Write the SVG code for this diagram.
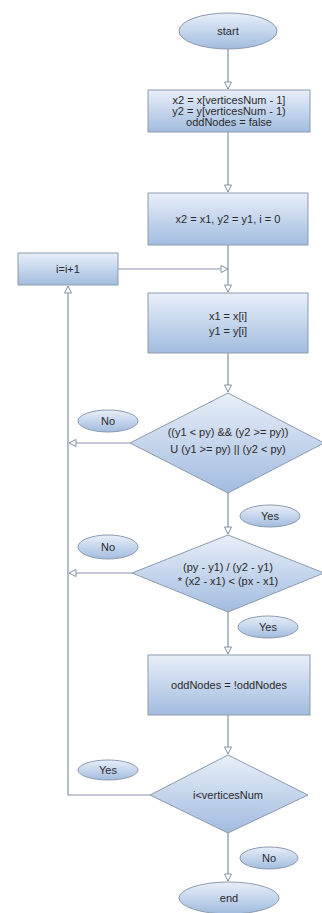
<svg xmlns="http://www.w3.org/2000/svg" width="322" height="913" viewBox="0 0 322 913">
<defs>
<linearGradient id="g" x1="0" y1="0" x2="0" y2="1">
<stop offset="0" stop-color="#e8eff9"/>
<stop offset="1" stop-color="#a2bcdf"/>
</linearGradient>
<marker id="a" markerWidth="10" markerHeight="10" refX="8" refY="4" orient="auto" markerUnits="userSpaceOnUse">
<path d="M1,0.5 L8,4 L1,7.5 Z" fill="#ffffff" stroke="#8593a3" stroke-width="1"/>
</marker>
<style>
.n{fill:url(#g);stroke:#8c9bad;stroke-width:1}
.t{font-family:"Liberation Sans",Arial,sans-serif;font-size:11px;fill:#2a2a2a;text-anchor:middle}
.c{fill:none;stroke:#8593a3;stroke-width:1.2}
</style>
</defs>
<rect width="322" height="913" fill="#ffffff"/>
<g id="connectors">
<path class="c" d="M228,49 V89" marker-end="url(#a)"/>
<path class="c" d="M228,132 V192" marker-end="url(#a)"/>
<path class="c" d="M228,245 V292" marker-end="url(#a)"/>
<path class="c" d="M118,269 H228" marker-end="url(#a)"/>
<path class="c" d="M228,353 V392" marker-end="url(#a)"/>
<path class="c" d="M130,443 H69" marker-end="url(#a)"/>
<path class="c" d="M228,493 V534" marker-end="url(#a)"/>
<path class="c" d="M132,573 H69" marker-end="url(#a)"/>
<path class="c" d="M228,612 V654" marker-end="url(#a)"/>
<path class="c" d="M228,715 V754" marker-end="url(#a)"/>
<path class="c" d="M150,795 H68 V286" marker-end="url(#a)"/>
<path class="c" d="M228,833 V881" marker-end="url(#a)"/>
</g>
<g id="start"><ellipse class="n" cx="228" cy="31" rx="49" ry="18"/><text class="t" x="228" y="35">start</text></g>
<g id="init1"><rect class="n" x="148" y="90" width="162" height="42"/>
<text class="t" x="229" y="104">x2 = x[verticesNum - 1]</text>
<text class="t" x="229" y="115">y2 = y[verticesNum - 1)</text>
<text class="t" x="229" y="126">oddNodes = false</text></g>
<g id="init2"><rect class="n" x="148" y="193" width="160" height="52"/>
<text class="t" x="228" y="223">x2 = x1, y2 = y1, i = 0</text></g>
<g id="inc"><rect class="n" x="18" y="253" width="100" height="32"/>
<text class="t" x="68" y="273">i=i+1</text></g>
<g id="assign"><rect class="n" x="148" y="293" width="160" height="60"/>
<text class="t" x="228" y="320">x1 = x[i]</text>
<text class="t" x="228" y="335">y1 = y[i]</text></g>
<g id="cond1"><path class="n" d="M228,393 L324,443 L228,493 L130,443 Z"/>
<text class="t" x="228" y="436">((y1 &lt; py) &amp;&amp; (y2 &gt;= py))</text>
<text class="t" x="228" y="453">U (y1 &gt;= py) ||  (y2 &lt; py)</text></g>
<g id="no1"><ellipse class="n" cx="108" cy="421" rx="30" ry="11"/><text class="t" x="108" y="425">No</text></g>
<g id="yes1"><ellipse class="n" cx="270" cy="516" rx="30" ry="11"/><text class="t" x="270" y="520">Yes</text></g>
<g id="cond2"><path class="n" d="M228,535 L324,573 L228,612 L132,573 Z"/>
<text class="t" x="228" y="571">(py - y1) / (y2 - y1)</text>
<text class="t" x="228" y="585">* (x2 - x1) &lt; (px - x1)</text></g>
<g id="no2"><ellipse class="n" cx="108" cy="547" rx="30" ry="12"/><text class="t" x="108" y="551">No</text></g>
<g id="yes2"><ellipse class="n" cx="268" cy="627" rx="30" ry="11"/><text class="t" x="268" y="631">Yes</text></g>
<g id="toggle"><rect class="n" x="148" y="655" width="162" height="60"/>
<text class="t" x="229" y="689">oddNodes = !oddNodes</text></g>
<g id="cond3"><path class="n" d="M228,755 L308,795 L228,833 L150,795 Z"/>
<text class="t" x="228" y="799">i&lt;verticesNum</text></g>
<g id="yes3"><ellipse class="n" cx="108" cy="770" rx="30" ry="10"/><text class="t" x="108" y="774">Yes</text></g>
<g id="no3"><ellipse class="n" cx="269" cy="858" rx="29" ry="11"/><text class="t" x="269" y="862">No</text></g>
<g id="end"><ellipse class="n" cx="229" cy="898" rx="50" ry="16"/><text class="t" x="229" y="902">end</text></g>
</svg>
